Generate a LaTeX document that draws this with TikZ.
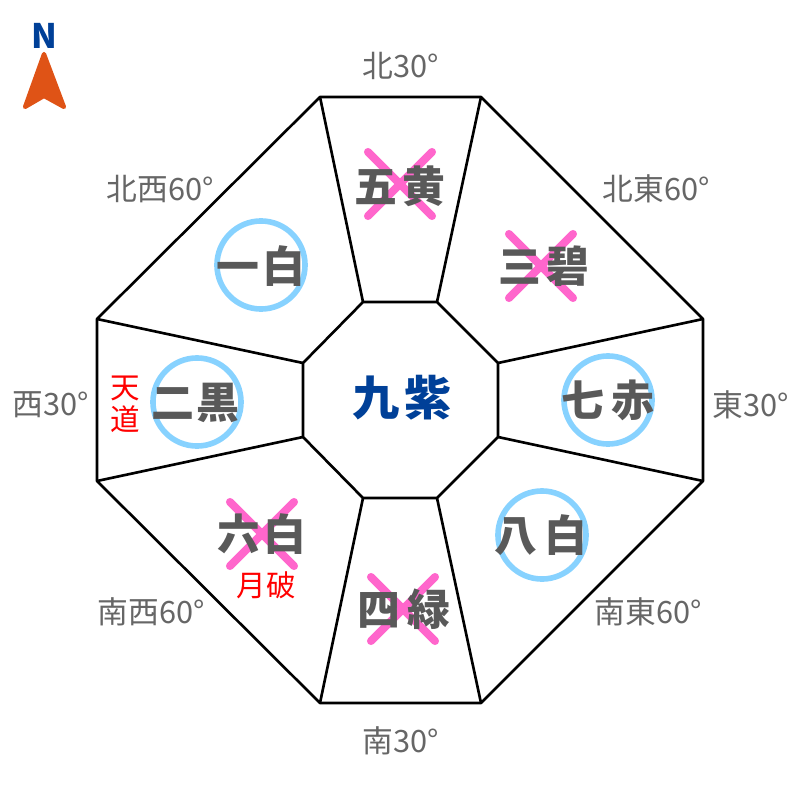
\documentclass[tikz,border=0pt]{standalone}
\usepackage{fontspec}
\setmainfont{Noto Sans CJK JP}
\newfontfamily\heavyfont{Noto Sans CJK JP Black}
\usetikzlibrary{shapes.geometric}

\begin{document}
\begin{tikzpicture}[x=0.01cm,y=-0.01cm]
	\tikzstyle{lbl}=[text=black!60,font=\fontsize{8.75}{9}\selectfont,inner sep=0]
	\tikzstyle{star}=[text=black!65,font=\fontsize{12.2}{13}\heavyfont,inner sep=0]
	\tikzstyle{mainstar}=[text=navy,font=\fontsize{13.4}{14}\heavyfont,inner sep=0]
	\tikzstyle{note}=[text=red,font=\fontsize{8.4}{9}\selectfont,inner sep=0,align=center]
	\tikzstyle{ring}=[circle,draw=ringblue,line width=1.6pt,minimum size=0.88cm,inner sep=0]
	\tikzstyle{xmark}=[draw=xpink,line width=2.3pt,line cap=round]
	\tikzstyle{wall}=[draw=black,line width=0.75pt,line join=round]
	\definecolor{navy}{HTML}{004098}
	\definecolor{ringblue}{HTML}{87D2FF}
	\definecolor{xpink}{HTML}{FF66CC}
	\definecolor{arrowred}{HTML}{DF5316}

	\useasboundingbox (0,0) rectangle (800,800);

	% corners
	\coordinate (o1) at (320,97);
	\coordinate (o2) at (481,97);
	\coordinate (o3) at (703,319);
	\coordinate (o4) at (703,481);
	\coordinate (o5) at (481,703);
	\coordinate (o6) at (320,703);
	\coordinate (o7) at (97,481);
	\coordinate (o8) at (97,319);
	\coordinate (i1) at (363,302);
	\coordinate (i2) at (437,302);
	\coordinate (i3) at (498,363);
	\coordinate (i4) at (498,437);
	\coordinate (i5) at (437,498);
	\coordinate (i6) at (363,498);
	\coordinate (i7) at (303,437);
	\coordinate (i8) at (303,363);

	\draw[wall] (o1) -- (o2) -- (o3) -- (o4) -- (o5) -- (o6) -- (o7) -- (o8) -- cycle;
	\draw[wall] (i1) -- (i2) -- (i3) -- (i4) -- (i5) -- (i6) -- (i7) -- (i8) -- cycle;
	\foreach \from/\to in {o1/i1,o2/i2,o3/i3,o4/i4,o5/i5,o6/i6,o7/i7,o8/i8}
	\draw[wall] (\from) -- (\to);

	% marks
	\node[ring] (r1) at (261,265) {};
	\node[ring] (r2) at (197,402) {};
	\node[ring] (r7) at (608,400) {};
	\node[ring] (r8) at (542,535) {};
	\foreach \cx/\cy in {400/184,541/266,262/534,403/609}
	{
		\draw[xmark] ({\cx-32},{\cy-32}) -- ({\cx+32},{\cy+32});
		\draw[xmark] ({\cx+32},{\cy-32}) -- ({\cx-32},{\cy+32});
	}

	% stars
	\node[mainstar] (s9) at (402,398) {九\hspace{1.2pt}紫};
	\node[star] (s1) at (261,266) {一\hspace{1pt}白};
	\node[star] (s2) at (195,403) {二\hspace{0.6pt}黒};
	\node[star] (s3) at (544,266) {三\hspace{1.5pt}碧};
	\node[star] (s4) at (404,609) {四\hspace{2pt}緑};
	\node[star] (s5) at (400,186) {五\hspace{1.6pt}黄};
	\node[star] (s6) at (262,534) {六\hspace{1pt}白};
	\node[star] (s7) at (608,400) {七\hspace{1.8pt}赤};
	\node[star] (s8) at (541,535) {八\hspace{1.8pt}白};

	\node[note] (tendo) at (125,404) {天\\[0pt]道};
	\node[note] (geppa) at (266,585) {月破};

	% directions
	\node[lbl] (n) at (401,66) {北30°};
	\node[lbl] (nw) at (160,189) {北西60°};
	\node[lbl] (ne) at (656,189) {北東60°};
	\node[lbl] (w) at (51,405) {西30°};
	\node[lbl] (e) at (751,405) {東30°};
	\node[lbl] (sw) at (151,612) {南西60°};
	\node[lbl] (se) at (648,612) {南東60°};
	\node[lbl] (s) at (401,741) {南30°};

	% compass
	\node[text=navy,font=\fontsize{9.6}{10}\heavyfont,inner sep=0] (north) at (44,36) {N};
	\fill[arrowred,draw=arrowred,line width=1.2pt,line join=round] (44,54) -- (25,107) -- (44,96) -- (64,107) -- cycle;
\end{tikzpicture}
\end{document}
